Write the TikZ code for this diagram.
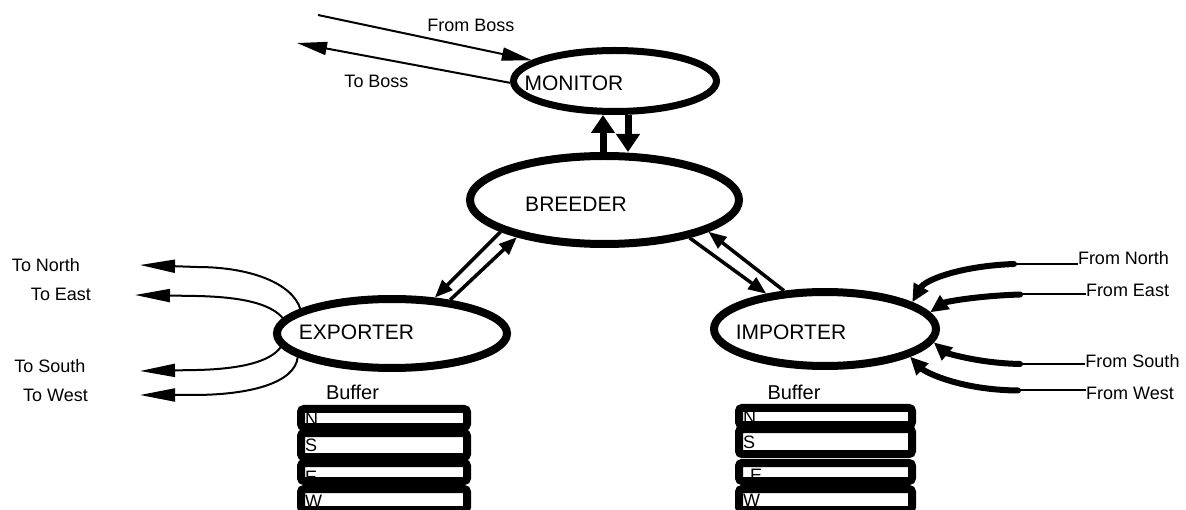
\documentclass[tikz,border=0pt]{standalone}
\usepackage{fontspec}
\setmainfont{Liberation Sans}
\usetikzlibrary{shapes.geometric,arrows.meta,calc}

\begin{document}
\begin{tikzpicture}[x=1pt,y=-1pt]
\tikzstyle{proc}=[draw,shape=ellipse,line width=8pt,inner sep=0pt]
\tikzstyle{big}=[font=\fontsize{21}{24}\selectfont,inner sep=0pt]
\tikzstyle{lbl}=[font=\fontsize{18}{20}\selectfont,inner sep=0pt]
\tikzstyle{fat}=[line width=7pt,-{Triangle[length=18pt,width=23pt]}]
\tikzstyle{mid}=[line width=3.5pt,-{Triangle[length=18pt,width=14pt]}]
\tikzstyle{wire}=[line width=2pt,-{Triangle[length=30pt,width=13pt]}]
\tikzstyle{lead}=[line width=2pt]
\tikzstyle{feed}=[line width=6pt,line cap=round,-{Triangle[length=18pt,width=16pt]}]
\tikzstyle{slot}=[line width=8pt,rounded corners=3pt]

\useasboundingbox (0,0) rectangle (1186,510);

\node[proc,line width=7pt,minimum width=203pt,minimum height=61pt](monitor) at (615,81){};
\node[proc,minimum width=269pt,minimum height=88pt](breeder) at (604.5,200){};
\node[proc,minimum width=230pt,minimum height=69pt](exporter) at (392,333.5){};
\node[proc,minimum width=222pt,minimum height=74pt](importer) at (825,329){};
%
\node[big](tmonitor) at (574,83){MONITOR};
\node[big](tbreeder) at (576,204){BREEDER};
\node[big](texporter) at (356.5,332){EXPORTER};
\node[big](timporter) at (791,332){IMPORTER};
%
\node[lbl](fboss) at (471,25.5){From Boss};
\node[lbl](tboss) at (376.5,81.5){To Boss};
\node[lbl](tnorth) at (46,265){To North};
\node[lbl](teast) at (61,294){To East};
\node[lbl](tsouth) at (50,366){To South};
\node[lbl](twest) at (55.5,395.5){To West};
\node[lbl](fnorth) at (1123.5,258.5){From North};
\node[lbl](feast) at (1127.5,290){From East};
\node[lbl](fsouth) at (1132.5,361.5){From South};
\node[lbl](fwest) at (1130,393.5){From West};
\node[lbl,font=\fontsize{20}{22}\selectfont](bufl) at (352.5,392.5){Buffer};
\node[lbl,font=\fontsize{20}{22}\selectfont](bufr) at (794,392.5){Buffer};
%
\coordinate (bossin) at (318,15);
\coordinate (bossout) at (297,43);
\coordinate (onorth) at (140,265);
\coordinate (oeast) at (135,295);
\coordinate (osouth) at (140,371);
\coordinate (owest) at (140,395);
\coordinate (inN) at (1014,264);
\coordinate (inE) at (1020,294.5);
\coordinate (inS) at (1020,364);
\coordinate (inW) at (1018,390.5);
%
\draw[wire] (bossin) -- (monitor.166.6);
\draw[wire] (monitor.181) -- (bossout);
%
\draw[fat] ($(breeder.north)+(-1.5,0)$) -- ($(monitor.south)+(-12,0)$);
\draw[fat] ($(monitor.south)+(13,0)$) -- ($(breeder.north)+(23.5,0)$);
%
\draw[mid] (breeder.197.5) -- (exporter.40.8);
\draw[mid] (exporter.30.1) -- (breeder.203.7);
\draw[mid] (breeder.336.8) -- (importer.149.6);
\draw[mid] (importer.137.1) -- (breeder.343.1);
%
\draw[wire,-{Triangle[length=35pt,width=13pt]}] (exporter.165.1) .. controls (292,283) and (250,267) .. (197,267) -- (onorth);
\draw[wire,-{Triangle[length=35pt,width=13pt]}] (exporter.172.2) .. controls (270,303) and (240,297) .. (197,296) -- (oeast);
\draw[wire,-{Triangle[length=35pt,width=13pt]}] (exporter.187.8) .. controls (270,362) and (240,369) .. (197,370) -- (osouth);
\draw[wire,-{Triangle[length=35pt,width=13pt]}] (exporter.194.6) .. controls (295,383) and (250,395) .. (193,395) -- (owest);
%
\draw[lead] (fnorth.west |- inN) -- (inN);
\draw[lead] (feast.west |- inE) -- (inE);
\draw[lead] (fsouth.west |- inS) -- (inS);
\draw[lead] (fwest.west |- inW) -- (inW);
\draw[feed] (inN) .. controls (960,266) and (925,280) .. (importer.17.2);
\draw[feed] (inE) .. controls (975,296) and (945,302) .. (importer.9);
\draw[feed] (inS) .. controls (975,363) and (945,352) .. (importer.353.3);
\draw[feed] (inW) .. controls (960,390) and (925,372) .. (importer.342.2);
%
\foreach \ya/\yb/\lt/\bl in {413/423/N/425,437/453/S/451,467/477/E/483,493/506/W/507}{
  \draw[slot] (301,\ya-4) rectangle (467,\yb+4);
  \begin{scope}
    \clip (305,\ya) rectangle (463,\yb);
    \node[lbl,anchor=base west](el\lt) at (305,\bl){\lt};
  \end{scope}
}
\foreach \ya/\yb/\lt/\bl/\xl in {412/421/N/424/743,433/450/S/448/743,467/477/E/481/750,493/506/W/506/743}{
  \draw[slot] (739,\ya-4) rectangle (912,\yb+4);
  \begin{scope}
    \clip (743,\ya) rectangle (908,\yb);
    \node[lbl,anchor=base west](ir\lt) at (\xl,\bl){\lt};
  \end{scope}
}
\end{tikzpicture}
\end{document}
